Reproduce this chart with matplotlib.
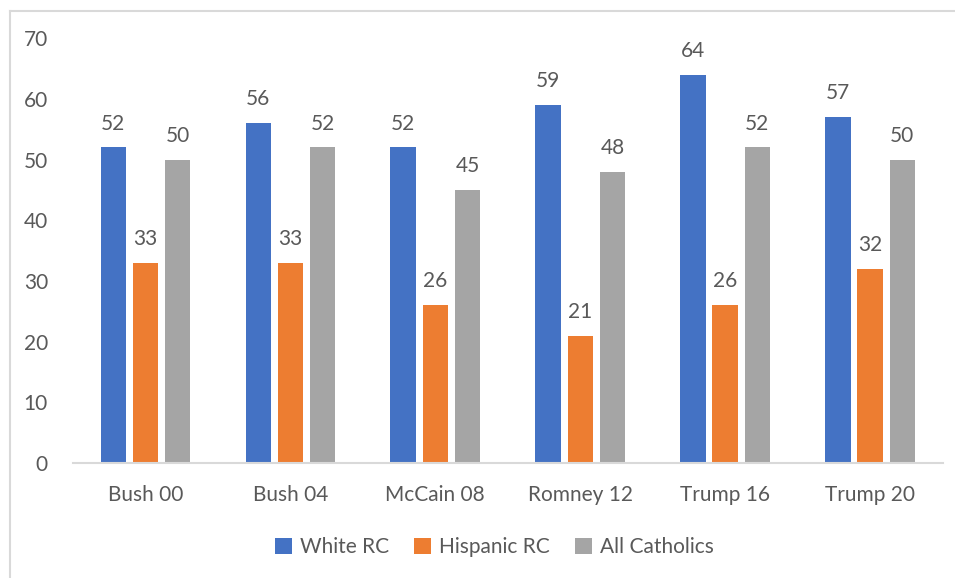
import numpy as np
from matplotlib import pyplot as plt
from matplotlib.lines import Line2D

candidates = ['Bush 00', 'Bush 04', 'McCain 08', 'Romney 12', 'Trump 16', 'Trump 20']
white_rc = [52, 56, 52, 59, 64, 57]
hispanic_rc = [33, 33, 26, 21, 26, 32]
all_catholics = [50, 52, 45, 48, 52, 50]

series = [
    ('White RC', white_rc, '#4472c4'),
    ('Hispanic RC', hispanic_rc, '#ed7d31'),
    ('All Catholics', all_catholics, '#a5a5a5'),
]

plt.rcParams['font.family'] = ['Lato', 'DejaVu Sans']
text_color = '#595959'
fs = 15

fig = plt.figure(figsize=(9.55, 5.78), dpi=100)
ax = fig.add_axes([0.0764, 0.199, 0.9106, 0.735])

x = np.arange(len(candidates))
width = 0.175
step = 0.222

for i, (name, values, color) in enumerate(series):
    pos = x + (i - 1) * step
    bars = ax.bar(pos, values, width, color=color, label=name, zorder=2)
    for b, v in zip(bars, values):
        ax.annotate(str(v), (b.get_x() + b.get_width() / 2, v),
                    xytext=(0, 10), textcoords='offset points',
                    ha='center', va='bottom', fontsize=fs, color=text_color)

ax.set_xlim(-0.5, len(candidates) - 0.5)
ax.set_ylim(0, 70)
ax.set_yticks(range(0, 71, 10))
ax.set_xticks(x)
ax.set_xticklabels(candidates)
ax.tick_params(axis='both', length=0, labelsize=fs, colors=text_color)
ax.tick_params(axis='y', pad=18)
ax.tick_params(axis='x', pad=16)

for side in ['top', 'right', 'left']:
    ax.spines[side].set_visible(False)
ax.spines['bottom'].set_color('#d9d9d9')
ax.spines['bottom'].set_linewidth(1.5)

# thin frame around the chart area
fig.add_artist(Line2D([10 / 955, 10 / 955], [0, 1 - 11 / 578], color='#d9d9d9', lw=1.5))
fig.add_artist(Line2D([10 / 955, 1], [1 - 11 / 578, 1 - 11 / 578], color='#d9d9d9', lw=1.5))

leg = fig.legend(loc='center', bbox_to_anchor=(0.518, 0.054), ncol=3, frameon=False,
                 fontsize=fs, handlelength=0.8, handleheight=0.8,
                 handletextpad=0.4, columnspacing=1.2)
for t in leg.get_texts():
    t.set_color(text_color)

fig.savefig('out.png', dpi=100)
